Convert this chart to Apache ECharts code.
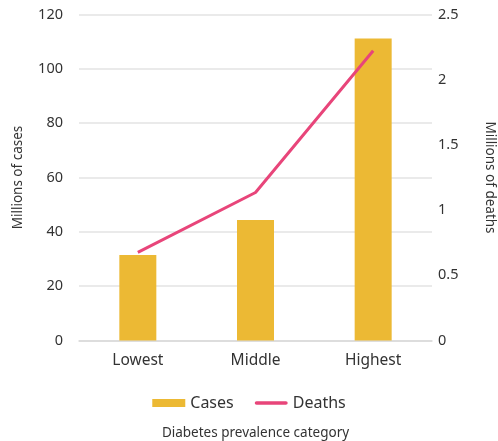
<!DOCTYPE html>
<html><head><meta charset="utf-8">
<script src="https://cdn.jsdelivr.net/npm/echarts@6/dist/echarts.min.js"></script>
<style>html,body{margin:0;padding:0;background:#fff}#c{width:498px;height:441px}</style>
</head><body><div id="c"></div>
<script>
const categories = ['Lowest', 'Middle', 'Highest'];
const cases = [31.5, 44.4, 111.2];
const deaths = [0.676, 1.135, 2.222];
const leftTicks = [0, 20, 40, 60, 80, 100, 120];
const rightTicks = [0, 0.5, 1, 1.5, 2, 2.5];

const font = '"Noto Sans", sans-serif';
const chart = echarts.init(document.getElementById('c'));
chart.setOption({
  animation: false,
  textStyle: { fontFamily: font, color: '#333' },
  grid: { left: 79, right: 66, top: 14.5, bottom: 100.5, containLabel: false, outerBoundsMode: 'none' },
  legend: {
    data: [
      { name: 'Cases', icon: 'rect' },
      { name: 'Deaths', icon: 'path://M2,0 L34,0 A2,2 0 0 1 34,4 L2,4 A2,2 0 0 1 2,0 Z' }
    ],
    bottom: 25, left: 'center',
    itemWidth: 33, itemHeight: 8, itemGap: 21,
    textStyle: { fontSize: 16, color: '#333', fontFamily: font }
  },
  xAxis: {
    type: 'category', data: categories,
    axisLine: { lineStyle: { color: '#d9d9d9', width: 1.5 } },
    axisTick: { show: false },
    axisLabel: { fontSize: 15.5, color: '#333', margin: 12 },
    name: 'Diabetes prevalence category', nameLocation: 'middle', nameGap: 86,
    nameTextStyle: { fontSize: 13.5, color: '#333' }
  },
  yAxis: [
    { type: 'value', min: leftTicks[0], max: leftTicks[leftTicks.length - 1], interval: 20,
      splitLine: { lineStyle: { color: '#e3e3e3', width: 1.5 } },
      axisLine: { show: false }, axisTick: { show: false },
      axisLabel: { fontSize: 14.5, color: '#333', margin: 16 },
      name: 'Millions of cases', nameLocation: 'middle', nameGap: 54, nameRotate: 90,
      nameTextStyle: { fontSize: 13.5, color: '#333' } },
    { type: 'value', min: rightTicks[0], max: rightTicks[rightTicks.length - 1], interval: 0.5,
      splitLine: { show: false }, axisLine: { show: false }, axisTick: { show: false },
      axisLabel: { fontSize: 14.5, color: '#333', margin: 6 },
      name: 'Millions of deaths', nameLocation: 'middle', nameGap: 51, nameRotate: -90,
      nameTextStyle: { fontSize: 13.5, color: '#333' } }
  ],
  series: [
    { name: 'Cases', type: 'bar', data: cases, barWidth: 37, itemStyle: { color: '#ecb934' } },
    { name: 'Deaths', type: 'line', yAxisIndex: 1, data: deaths, symbol: 'none',
      lineStyle: { color: '#e8457a', width: 3 }, itemStyle: { color: '#e8457a' } }
  ]
});
</script></body></html>
